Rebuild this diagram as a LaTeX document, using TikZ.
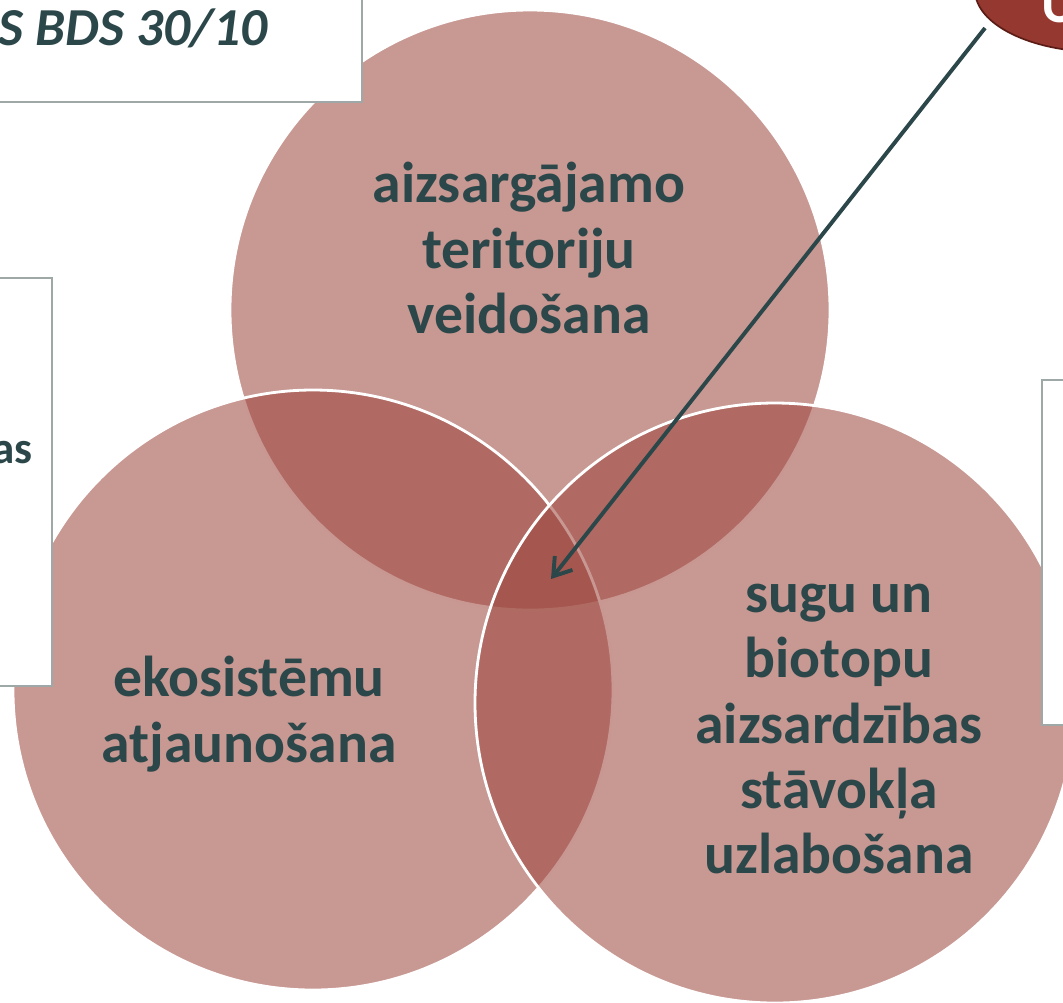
\documentclass[tikz,border=0pt]{standalone}
\usepackage{fontspec}
\setmainfont{Carlito}
\usetikzlibrary{arrows.meta,positioning,shapes.geometric}
\definecolor{vennfill}{RGB}{157,71,62}
\definecolor{slate}{RGB}{44,71,74}
\definecolor{boxgray}{RGB}{158,168,166}
\definecolor{goalred}{RGB}{148,56,48}
\definecolor{goaledge}{RGB}{92,28,22}

\begin{document}
\begin{tikzpicture}[x=0.025cm,y=-0.025cm,
    venn/.style={draw=white,line width=2pt,fill=vennfill,fill opacity=0.56},
    circtext/.style={text=slate,align=center,font=\fontsize{41}{46.5}\selectfont\bfseries},
    sidebox/.style={draw=boxgray,line width=2pt,fill=white},
    sidetext/.style={text=slate,anchor=base east,inner sep=0pt}]
    \clip (0,0) rectangle (1063,1002);
    % Three overlapping circles
    \draw[venn] (530,310) circle [radius=300];
    \draw[venn] (313,690) circle [radius=300];
    \draw[venn] (775,703) circle [radius=300];
    % Circle texts
    \node[circtext] (terit) at (529,248) {aizsargājamo\\teritoriju\\veidošana};
    \node[circtext] (ekosist) at (249,714) {ekosistēmu\\atjaunošana};
    \node[circtext] (sugas) at (839,729) {sugu un\\biotopu\\aizsardzības\\stāvokļa\\uzlabošana};
    % Side boxes
    \draw[sidebox] (-10,-10) rectangle (362,102);
    \draw[sidebox] (-10,278) rectangle (52,686);
    \draw[sidebox] (1042,380) rectangle (1080,725);
    \node[sidetext,font=\fontsize{38}{44}\selectfont\bfseries\itshape] (bds) at (268,45) {S BDS 30/10};
    \node[sidetext,font=\fontsize{32}{40}\selectfont\bfseries] (boxleft) at (33,463) {as};
    % Goal ellipse and arrow
    \node[ellipse,draw=goaledge,fill=goalred,line width=1.2pt,minimum width=6.25cm,minimum height=3.1cm] (goal) at (1100,-10) {};
    \node[anchor=base west,text=white,inner sep=0pt,font=\fontsize{40}{46}\selectfont\bfseries] (goaltext) at (1041,22) {U};
    \coordinate (tail) at (985,28);
    \coordinate (core) at (551,579);
    \draw[slate,line width=2.8pt,-{Straight Barb[length=12pt,width=16pt]}] (tail) -- (core);
\end{tikzpicture}
\end{document}
